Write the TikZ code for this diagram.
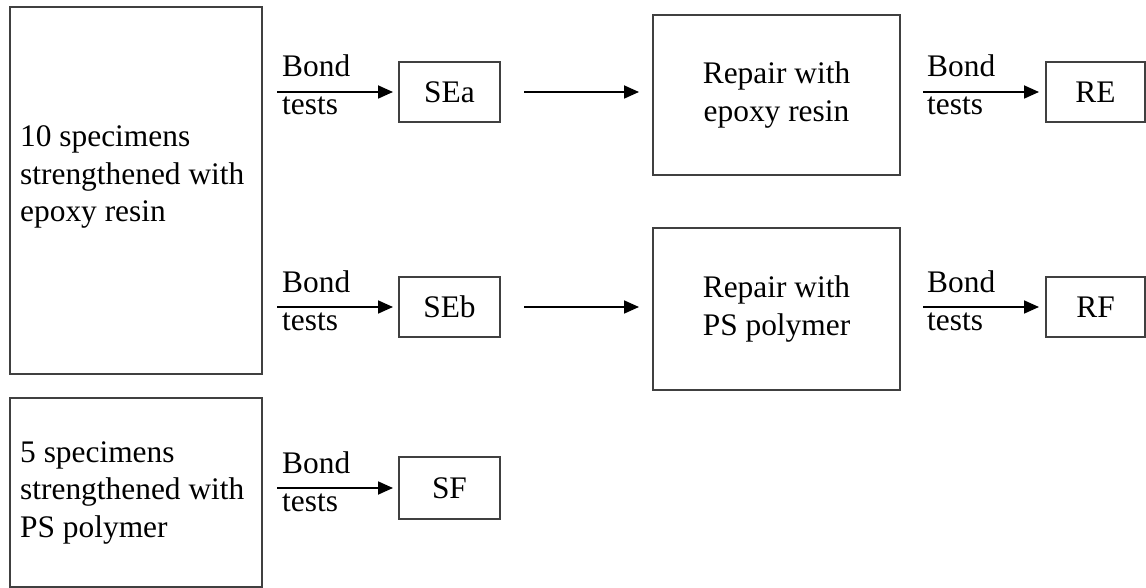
\documentclass[tikz,border=0pt]{standalone}
\usepackage{fontspec}
\setmainfont{Liberation Serif}
\usetikzlibrary{arrows.meta,calc}
\newcommand\dfont{\fontsize{31.4pt}{37.5pt}\selectfont}
\definecolor{boxgray}{HTML}{404040}
\tikzset{
  box/.style={draw=boxgray, line width=2pt, rectangle, inner sep=0pt, outer sep=0pt, font=\dfont},
  arr/.style={-{Triangle[length=15pt,width=13pt]}, line width=1.8pt, black},
  lbl/.style={anchor=base west, inner sep=0pt, font=\dfont},
  blocktxt/.style={anchor=base west, inner sep=0pt, align=left, font=\dfont}
}
\begin{document}
\begin{tikzpicture}[x=1pt,y=-1pt]
\useasboundingbox (0,0) rectangle (1146,588);
% left boxes
\node[box, minimum width=252pt, minimum height=367pt] (box1) at (136,190.5) {};
\node[box, minimum width=252pt, minimum height=189pt] (box2) at (136,492.5) {};
\node[blocktxt] (t1) at (20,222) {10 specimens\\strengthened with\\epoxy resin};
\node[blocktxt] (t2) at (20,537) {5 specimens\\strengthened with\\PS polymer};
% result boxes
\node[box, minimum width=101pt, minimum height=60pt] (sea) at (449.5,92) {SEa};
\node[box, minimum width=101pt, minimum height=60pt] (seb) at (449.5,307) {SEb};
\node[box, minimum width=101pt, minimum height=62pt] (sf) at (449.5,488) {SF};
\node[box, minimum width=247pt, minimum height=160pt, align=center] (rep1) at (776.5,95) {Repair with\\epoxy resin};
\node[box, minimum width=247pt, minimum height=162pt, align=center] (rep2) at (776.5,309) {Repair with\\PS polymer};
\node[box, minimum width=99pt, minimum height=60pt] (re) at (1095.5,92) {RE};
\node[box, minimum width=99pt, minimum height=60pt] (rf) at (1095.5,307) {RF};
% connectors
\coordinate (c1) at (box1.east |- sea.west);
\coordinate (c2) at (box1.east |- seb.west);
\coordinate (c3) at (box2.east |- sf.west);
\draw[arr, shorten <=15pt, shorten >=6pt] (c1) -- (sea.west);
\draw[arr, shorten <=15pt, shorten >=6pt] (c2) -- (seb.west);
\draw[arr, shorten <=15pt, shorten >=6pt] (c3) -- (sf.west);
\draw[arr, shorten <=24pt, shorten >=14pt] (sea.east) -- (sea.east -| rep1.west);
\draw[arr, shorten <=24pt, shorten >=14pt] (seb.east) -- (seb.east -| rep2.west);
\draw[arr, shorten <=23pt, shorten >=7pt] (rep1.east |- re.west) -- (re.west);
\draw[arr, shorten <=23pt, shorten >=7pt] (rep2.east |- rf.west) -- (rf.west);
% labels
\node[lbl] (b1) at ([shift={(20,-15)}]c1) {Bond};
\node[lbl] (s1) at ([shift={(20,23)}]c1) {tests};
\node[lbl] (b2) at ([shift={(20,-15)}]c2) {Bond};
\node[lbl] (s2) at ([shift={(20,23)}]c2) {tests};
\node[lbl] (b3) at ([shift={(20,-15)}]c3) {Bond};
\node[lbl] (s3) at ([shift={(20,23)}]c3) {tests};
\node[lbl] (b4) at ([shift={(27,-15)}]rep1.east |- re.west) {Bond};
\node[lbl] (s4) at ([shift={(27,23)}]rep1.east |- re.west) {tests};
\node[lbl] (b5) at ([shift={(27,-15)}]rep2.east |- rf.west) {Bond};
\node[lbl] (s5) at ([shift={(27,23)}]rep2.east |- rf.west) {tests};
\end{tikzpicture}
\end{document}
